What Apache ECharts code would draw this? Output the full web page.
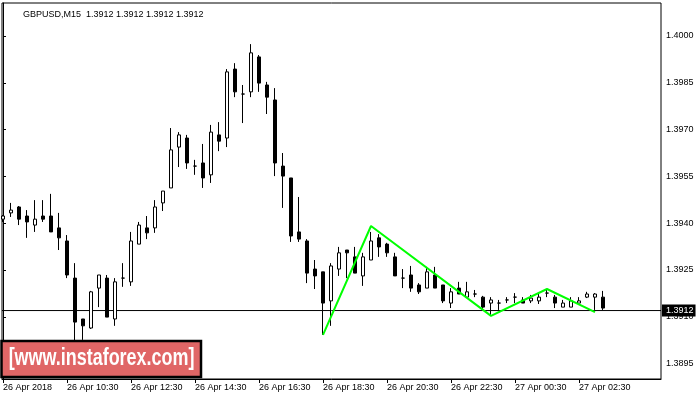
<!DOCTYPE html>
<html>
<head>
<meta charset="utf-8">
<script src="https://cdn.jsdelivr.net/npm/echarts@6/dist/echarts.min.js"></script>
<style>html,body{margin:0;padding:0;background:#fff;}#c{width:700px;height:400px;}</style>
</head>
<body>
<div id="c"></div>
<script>
// 15-minute bars, 26 Apr 2018 08:30 onward
const tickLabels = ["26 Apr 2018","26 Apr 10:30","26 Apr 12:30","26 Apr 14:30","26 Apr 16:30","26 Apr 18:30","26 Apr 20:30","26 Apr 22:30","27 Apr 00:30","27 Apr 02:30"];
const tickIndex = [0,8,16,24,32,40,48,56,64,72];
const priceTicks = [1.3895,1.3910,1.3925,1.3940,1.3955,1.3970,1.3985,1.4000];

const opens = [
1.39413,1.39433,1.39452,1.39423,1.39394,1.39423,1.39423,1.39385,1.39343,1.39224,
1.39093,1.39064,1.39192,1.39224,1.39093,1.39224,1.39212,1.39333,1.39385,1.39385,
1.39465,1.39513,1.39644,1.39673,1.39583,1.39593,1.39555,1.39683,1.39673,1.39894,
1.39814,1.39821,1.39933,1.39843,1.39795,1.39583,1.39545,1.39372,1.39343,1.39253,
1.39244,1.39151,1.39253,1.39314,1.39292,1.39231,1.39282,1.39353,1.39333,1.39292,
1.39224,1.39234,1.39202,1.39192,1.39234,1.39202,1.39144,1.39192,1.39163,1.39173,
1.39163,1.39144,1.39144,1.39154,1.39163,1.39154,1.39151,1.39151,1.39176,1.39163,
1.39131,1.39131,1.39144,1.39163,1.39163,1.39163];
const closes = [
1.39423,1.39442,1.39413,1.39404,1.39413,1.39413,1.39372,1.39353,1.39234,1.39083,
1.39071,1.39180,1.39234,1.39099,1.39212,1.39224,1.39343,1.39394,1.39369,1.39452,
1.39503,1.39635,1.39683,1.39593,1.39583,1.39545,1.39692,1.39663,1.39885,1.39821,
1.39814,1.39946,1.39849,1.39804,1.39593,1.39551,1.39359,1.39349,1.39240,1.39231,
1.39144,1.39263,1.39305,1.39305,1.39240,1.39292,1.39343,1.39324,1.39305,1.39231,
1.39224,1.39192,1.39180,1.39244,1.39192,1.39151,1.39180,1.39173,1.39180,1.39173,
1.39131,1.39154,1.39144,1.39154,1.39163,1.39144,1.39160,1.39163,1.39176,1.39144,
1.39144,1.39151,1.39151,1.39173,1.39173,1.39128];
const lows = [
1.39404,1.39420,1.39394,1.39353,1.39372,1.39404,1.39372,1.39314,1.39224,1.39019,
1.39026,1.39061,1.39131,1.39099,1.39071,1.39196,1.39199,1.39333,1.39349,1.39369,
1.39439,1.39513,1.39580,1.39574,1.39555,1.39513,1.39529,1.39631,1.39644,1.39804,
1.39721,1.39804,1.39821,1.39750,1.39551,1.39449,1.39340,1.39340,1.39208,1.39189,
1.39042,1.39071,1.39231,1.39224,1.39240,1.39199,1.39282,1.39292,1.39292,1.39231,
1.39192,1.39180,1.39173,1.39192,1.39192,1.39144,1.39128,1.39173,1.39163,1.39163,
1.39125,1.39106,1.39122,1.39144,1.39144,1.39144,1.39144,1.39141,1.39163,1.39128,
1.39131,1.39131,1.39144,1.39160,1.39122,1.39122];
const highs = [
1.39426,1.39465,1.39455,1.39442,1.39474,1.39474,1.39494,1.39433,1.39362,1.39272,
1.39093,1.39183,1.39234,1.39234,1.39224,1.39272,1.39372,1.39404,1.39423,1.39474,
1.39503,1.39705,1.39692,1.39683,1.39603,1.39654,1.39715,1.39724,1.39894,1.39913,
1.39843,1.39974,1.39939,1.39853,1.39833,1.39625,1.39545,1.39484,1.39349,1.39282,
1.39244,1.39272,1.39324,1.39314,1.39324,1.39305,1.39372,1.39365,1.39337,1.39305,
1.39253,1.39263,1.39208,1.39260,1.39260,1.39202,1.39192,1.39212,1.39212,1.39186,
1.39167,1.39163,1.39154,1.39163,1.39176,1.39163,1.39170,1.39176,1.39186,1.39170,
1.39154,1.39163,1.39163,1.39180,1.39176,1.39183];

const patternIdx = [40,46,61,68,74];
const patternVal = [1.39042,1.39391,1.39103,1.39189,1.39115];
const lastPrice = 1.3912;
const headerText = "GBPUSD,M15  1.3912 1.3912 1.3912 1.3912";
const watermark = "[www.instaforex.com]";

const X_MIN = -0.125, X_MAX = 82.25;
const candleData = opens.map((o, i) => [i, o, closes[i], lows[i], highs[i]]);
const patternData = patternIdx.map((x, i) => [x, patternVal[i]]);
const priceLineData = [[X_MIN, lastPrice], [X_MAX, lastPrice]];

const FONT = "Liberation Sans";
const chart = echarts.init(document.getElementById('c'), null, {renderer: 'canvas'});
chart.setOption({
  animation: false,
  backgroundColor: '#fff',
  textStyle: {fontFamily: FONT},
  title: {
    text: headerText, left: 18, top: 5,
    textStyle: {fontSize: 9, fontWeight: 'normal', color: '#000', fontFamily: FONT}
  },
  grid: {left: 2, right: 39, top: 3, bottom: 21, show: true, borderColor: '#000', borderWidth: 1, backgroundColor: '#fff'},
  xAxis: {
    type: 'value', min: X_MIN, max: X_MAX,
    splitLine: {show: false},
    axisLine: {show: true, lineStyle: {color: '#000'}},
    axisTick: {show: true, length: 4, customValues: tickIndex, lineStyle: {color: '#000'}},
    axisLabel: {
      customValues: tickIndex, align: 'left', margin: 4,
      fontSize: 9, color: '#000', fontFamily: FONT,
      formatter: v => tickLabels[tickIndex.indexOf(Math.round(v))]
    }
  },
  yAxis: {
    type: 'value', position: 'right', min: 1.389006, max: 1.401058, scale: true,
    splitLine: {show: false},
    axisLine: {show: true, lineStyle: {color: '#000'}},
    axisTick: {show: true, length: 3, customValues: priceTicks, lineStyle: {color: '#000'}},
    axisLabel: {
      customValues: priceTicks, margin: 5, fontSize: 9, color: '#000', fontFamily: FONT,
      formatter: v => v.toFixed(4)
    }
  },
  series: [
    {
      type: 'line',
      data: priceLineData,
      symbol: 'none',
      z: 1,
      silent: true,
      lineStyle: {color: '#000', width: 1},
      endLabel: {
        show: true, distance: 1, formatter: () => lastPrice.toFixed(4),
        color: '#fff', backgroundColor: '#000', padding: [2, 2, 1, 4],
        fontSize: 9, fontFamily: FONT
      }
    },
    {
      type: 'candlestick',
      data: candleData,
      encode: {x: 0, y: [1, 2, 3, 4]},
      barWidth: 4,
      clip: true,
      z: 2,
      itemStyle: {color: '#fff', color0: '#000', borderColor: '#000', borderColor0: '#000', borderColorDoji: '#000', borderWidth: 1}
    },
    {
      type: 'line',
      data: patternData,
      symbol: 'none',
      z: 5,
      lineStyle: {color: '#00ff00', width: 2},
      clip: true
    }
  ],
  graphic: [
    {
      type: 'rect', z: 100,
      shape: {x: 1.5, y: 341, width: 199.5, height: 36},
      style: {fill: '#e06666', stroke: '#000', lineWidth: 2.5}
    },
    {
      type: 'text', z: 101,
      x: 101.5, y: 359, scaleX: 0.78,
      style: {text: watermark, fill: '#fff', font: 'bold 23px "Liberation Sans"', align: 'center', verticalAlign: 'middle'}
    }
  ]
});
</script>
</body>
</html>
